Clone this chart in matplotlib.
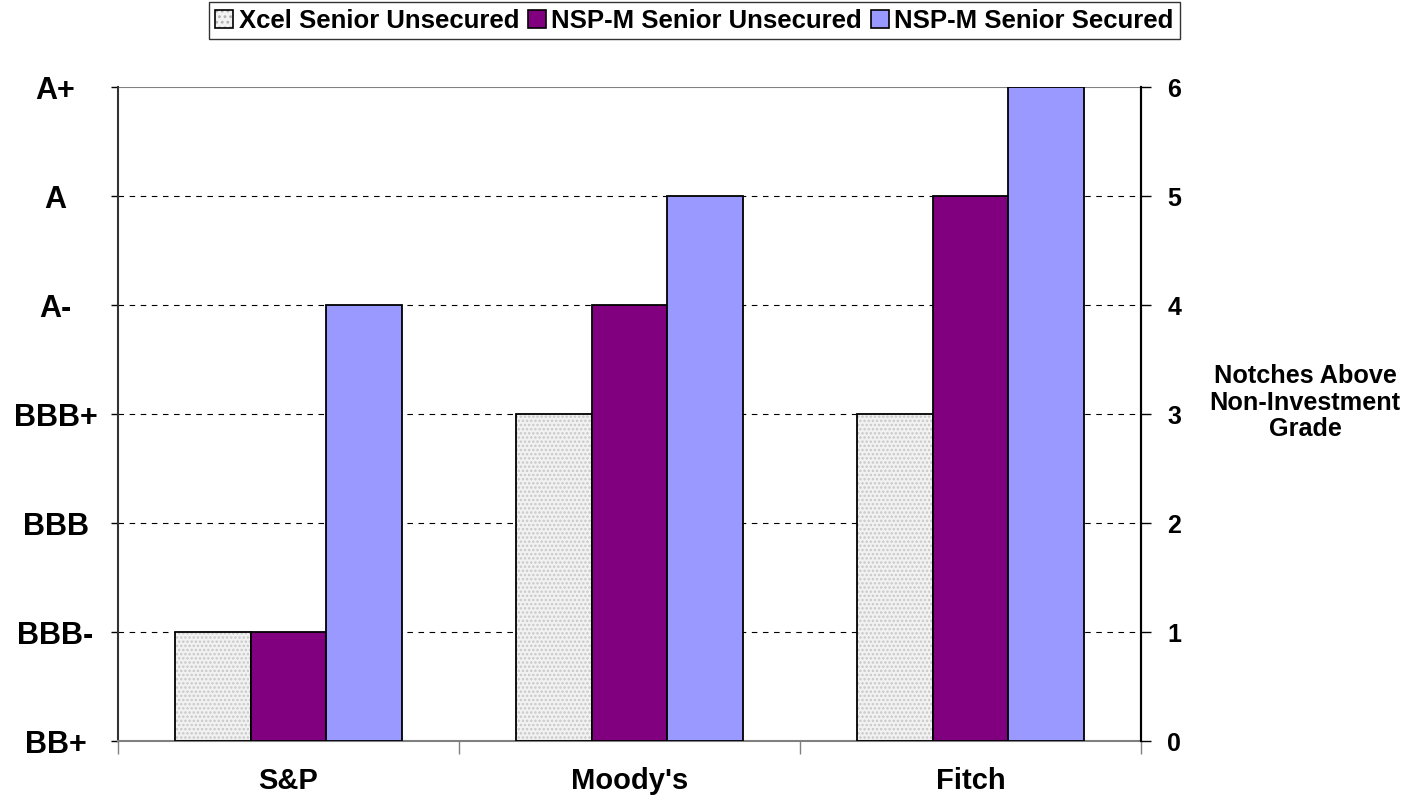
import matplotlib.pyplot as plt
import numpy as np
from matplotlib.patches import Patch

plt.rcParams['font.family'] = ['Liberation Sans', 'DejaVu Sans']
plt.rcParams['font.weight'] = 'bold'
plt.rcParams['hatch.linewidth'] = 1.2

# Data
agencies = ["S&P", "Moody's", "Fitch"]
xcel_unsecured = [1, 3, 3]
nspm_unsecured = [1, 4, 5]
nspm_secured = [4, 5, 6]
rating_labels = ['BB+', 'BBB-', 'BBB', 'BBB+', 'A-', 'A', 'A+']
notch_labels = ['0', '1', '2', '3', '4', '5', '6']

fig = plt.figure(figsize=(14.2, 8.05), dpi=100)
ax = fig.add_axes([0.0831, 0.0795, 0.7204, 0.8124])

x = np.arange(len(agencies))
width = 0.222

# dotted fill for Xcel bars: hatch layer first, then outline on top
ax.bar(x - width, xcel_unsecured, width, color='#f2f2f2', hatch='....',
       edgecolor='#c8c8c8', linewidth=0, zorder=2)
ax.bar(x - width, xcel_unsecured, width, fill=False, edgecolor='black',
       linewidth=1.3, zorder=3)
ax.bar(x, nspm_unsecured, width, color='#800080', edgecolor='black',
       linewidth=1.3, zorder=3)
ax.bar(x + width, nspm_secured, width, color='#9999ff', edgecolor='black',
       linewidth=1.3, zorder=3)

# Gridlines
for y in range(1, 6):
    ax.axhline(y, color='black', linestyle=(0, (5, 5)), linewidth=0.8, zorder=1)
ax.axhline(6, color='#808080', linewidth=1.5, zorder=1)

ax.set_xlim(-0.5, 2.5)
ax.set_ylim(0, 6)

ax.spines['top'].set_visible(False)
ax.spines['left'].set_color('#333333')
ax.spines['bottom'].set_color('#808080')
ax.spines['left'].set_linewidth(1.5)
ax.spines['bottom'].set_linewidth(1.5)
ax.spines['right'].set_linewidth(1.5)

# X axis: boundary ticks, category labels in the middle
ax.set_xticks([-0.5, 0.5, 1.5, 2.5])
ax.set_xticklabels([])
ax.set_xticks(x, minor=True)
ax.set_xticklabels(agencies, minor=True, fontsize=21, fontweight='bold')
ax.tick_params(axis='x', which='major', length=9, width=1, color='#808080')
ax.tick_params(axis='x', which='minor', length=0, pad=19)

# Left axis: ratings
ax.set_yticks(range(7))
ax.set_yticklabels(rating_labels, fontsize=22, fontweight='bold', ha='center')
ax.tick_params(axis='y', length=5, width=1, pad=40)

# Right axis: notches
ax2 = ax.twinx()
ax2.set_ylim(0, 6)
ax2.set_yticks(range(7))
ax2.set_yticklabels(notch_labels, fontsize=18, fontweight='bold')
ax2.tick_params(axis='y', length=7, width=1, pad=12)
for s in ['top', 'left', 'bottom']:
    ax2.spines[s].set_visible(False)
ax2.spines['right'].set_linewidth(1.5)

fig.text(0.919, 0.5, 'Notches Above\nNon-Investment\nGrade', ha='center',
         va='center', fontsize=18.2, fontweight='bold', linespacing=1.15)

# Legend
handles = [
    (Patch(facecolor='#f2f2f2', edgecolor='#b0b0b0', hatch='...', linewidth=0),
     Patch(fill=False, edgecolor='black', linewidth=1.2)),
    Patch(facecolor='#800080', edgecolor='black', linewidth=1.2),
    Patch(facecolor='#9999ff', edgecolor='black', linewidth=1.2),
]
leg = fig.legend(handles, ['Xcel Senior Unsecured', 'NSP-M Senior Unsecured',
                           'NSP-M Senior Secured'],
                 loc='upper center', bbox_to_anchor=(0.489, 0.997), ncol=3,
                 fontsize=18.5, frameon=True, fancybox=False, handlelength=0.7,
                 handleheight=0.7, handletextpad=0.2, columnspacing=0.35,
                 borderpad=0.25, borderaxespad=0)
leg.get_frame().set_edgecolor('black')
leg.get_frame().set_linewidth(1)
for t in leg.get_texts():
    t.set_fontweight('bold')

fig.savefig('out.png', dpi=100)
